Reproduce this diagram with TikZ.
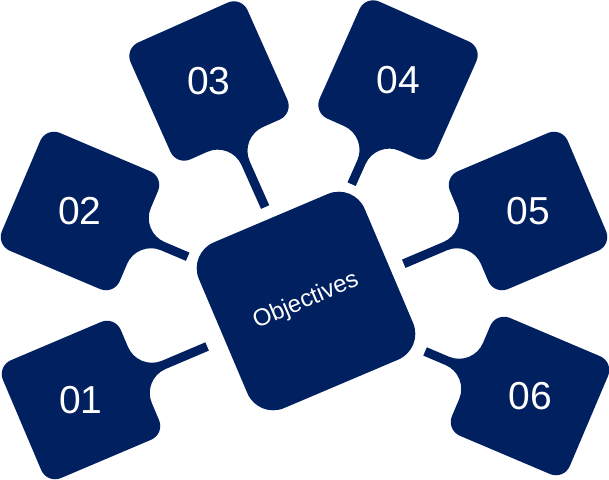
\documentclass[tikz,border=0pt]{standalone}
\usepackage{fontspec}
\setmainfont{Liberation Sans}
\definecolor{navy}{RGB}{0,32,96}
\tikzset{
  numlabel/.style={text=white, font=\fontsize{39}{39}\selectfont},
  pics/paddle/.style={code={
    \fill[navy] (64,30.5) -- (64,49) arc[start angle=0, end angle=90, radius=15]
      -- (-49,64) arc[start angle=90, end angle=180, radius=15]
      -- (-64,-49) arc[start angle=180, end angle=270, radius=15]
      -- (49,-64) arc[start angle=270, end angle=360, radius=15]
      -- (64,-30.5) arc[start angle=180, end angle=90, radius=26]
      -- (#1,-4.5) -- (#1,4.5) -- (90,4.5) arc[start angle=270, end angle=180, radius=26]
      -- cycle;
  }}
}
\begin{document}
\begin{tikzpicture}[x=1pt,y=-1pt]
    \useasboundingbox (0,0) rectangle (609,479);
    \coordinate (P1) at (81,400);
    \coordinate (P2) at (80,211);
    \coordinate (P3) at (209,81);
    \coordinate (P4) at (398,80);
    \coordinate (P5) at (528,211);
    \coordinate (P6) at (530,396);

    \pic[rotate=23] at (P1) {paddle=137};
    \pic[rotate=-23] at (P2) {paddle=117};
    \pic[rotate=-66] at (P3) {paddle=138};
    \pic[rotate=-114] at (P4) {paddle=114};
    \pic[rotate=203] at (P5) {paddle=135};
    \pic[rotate=157] at (P6) {paddle=114};

    \node[fill=navy, rounded corners=28pt, minimum size=180pt, rotate=23,
          text=white, font=\fontsize{24}{24}\selectfont] (obj) at (306,301) {Objectives};

    % Labels
    \node[numlabel] (n01) at (P1) {01};
    \node[numlabel] (n02) at (P2) {02};
    \node[numlabel] (n03) at (P3) {03};
    \node[numlabel] (n04) at (P4) {04};
    \node[numlabel] (n05) at (P5) {05};
    \node[numlabel] (n06) at (P6) {06};
\end{tikzpicture}
\end{document}
